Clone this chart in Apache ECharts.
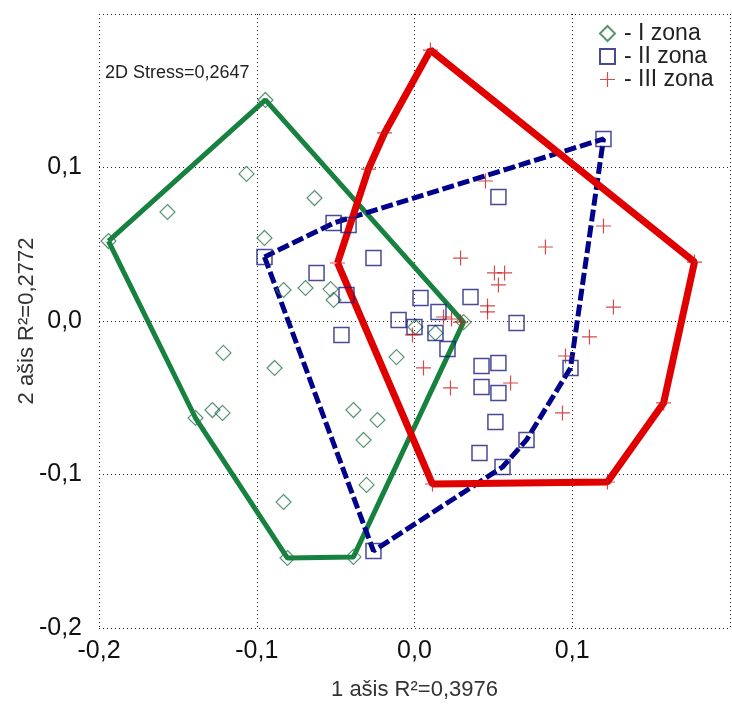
<!DOCTYPE html>
<html>
<head>
<meta charset="utf-8">
<script src="https://cdn.jsdelivr.net/npm/echarts@6/dist/echarts.min.js"></script>
<style>
  html, body { margin: 0; padding: 0; background: #fff; }
  #chart { width: 732px; height: 706px; }
</style>
</head>
<body>
<div id="chart"></div>
<script>
// NMDS ordination scores (axis 1, axis 2) per zone
const zoneNames = ['I zona', 'II zona', 'III zona'];

const zoneI = [
  [-0.0945, 0.144], [-0.1065, 0.0958], [-0.1566, 0.0710], [-0.0634, 0.0801],
  [-0.194, 0.0521], [-0.0951, 0.0541], [-0.0830, 0.0202], [-0.0691, 0.0215],
  [-0.0532, 0.0208], [-0.0513, 0.0137], [-0.0114, -0.0235], [0.0311, -0.0007],
  [0.0006, -0.0039], [0.0133, -0.0078], [-0.1211, -0.0208], [-0.0887, -0.0306],
  [-0.1388, -0.0632], [-0.1281, -0.0580], [-0.1217, -0.0599], [-0.0387, -0.0580],
  [-0.0235, -0.0645], [-0.0323, -0.0775], [-0.0304, -0.1068], [-0.0830, -0.1179],
  [-0.0805, -0.1544], [-0.0387, -0.1537]
];

const zoneII = [
  [0.1198, 0.1186], [0.0532, 0.0808], [-0.0951, 0.0417], [-0.0513, 0.0638],
  [-0.0418, 0.0625], [-0.0260, 0.0410], [-0.0621, 0.0313], [-0.0431, 0.0169],
  [-0.0463, -0.0091], [-0.0101, 0.0007], [0.0038, 0.0150], [0.0000, -0.0039],
  [0.0152, 0.0059], [0.0133, -0.0078], [0.0209, -0.0182], [0.0355, 0.0156],
  [0.0647, -0.0013], [0.0425, -0.0293], [0.0532, -0.0274], [0.0425, -0.0430],
  [0.0532, -0.0469], [0.0513, -0.0658], [0.0412, -0.0860], [0.0558, -0.0951],
  [0.0710, -0.0775], [0.0989, -0.0306], [-0.0260, -0.1498]
];

const zoneIII = [
  [0.0101, 0.1765], [-0.0190, 0.1225], [-0.0292, 0.0990], [-0.0488, 0.0378],
  [0.0450, 0.0912], [0.0292, 0.0410], [0.0830, 0.0482], [0.1198, 0.0619],
  [0.1261, 0.0091], [0.0507, 0.0313], [0.0571, 0.0313], [0.0532, 0.0235],
  [0.0463, 0.0098], [0.0463, 0.0059], [0.0184, 0.0026], [0.0235, 0.0013],
  [0.0292, -0.0007], [-0.0013, -0.0091], [0.0057, -0.0306], [0.0228, -0.0436],
  [0.0609, -0.0404], [0.0957, -0.0228], [0.1109, -0.0104], [0.0938, -0.0599],
  [0.0114, -0.1062], [0.1223, -0.1049], [0.1775, 0.0384], [0.1579, -0.0534]
];

const axisTicks = [-0.2, -0.1, 0.0, 0.1, 0.2];
const stressText = '2D Stress=0,2647';
const xAxisTitle = '1 ašis R²=0,3976';
const yAxisTitle = '2 ašis R²=0,2772';

// Convex hull (monotone chain), returned closed so the line loops back
function convexHull(points) {
  const p = points.slice().sort((a, b) => a[0] - b[0] || a[1] - b[1]);
  const cross = (o, a, b) => (a[0] - o[0]) * (b[1] - o[1]) - (a[1] - o[1]) * (b[0] - o[0]);
  const lower = [];
  for (const pt of p) {
    while (lower.length >= 2 && cross(lower[lower.length - 2], lower[lower.length - 1], pt) <= 0) lower.pop();
    lower.push(pt);
  }
  const upper = [];
  for (let i = p.length - 1; i >= 0; i--) {
    const pt = p[i];
    while (upper.length >= 2 && cross(upper[upper.length - 2], upper[upper.length - 1], pt) <= 0) upper.pop();
    upper.push(pt);
  }
  upper.pop(); lower.pop();
  const hull = lower.concat(upper);
  hull.push(hull[0]);
  return hull;
}

const fmt = v => {
  if (v > 0.15) return '';
  const s = (Math.round(v * 10) / 10).toFixed(1);
  return (s === '-0.0' ? '0.0' : s).replace('.', ',');
};

const plusPath = 'path://M9.2,0H10.8V9.2H20V10.8H10.8V20H9.2V10.8H0V9.2H9.2Z';
const font = '"Liberation Sans", Arial, sans-serif';

const dottedSplit = { show: true, lineStyle: { color: '#222', width: 1, type: [1, 3] } };

const option = {
  backgroundColor: '#fff',
  animation: false,
  grid: { left: 99, right: 2, top: 14, bottom: 78 },
  xAxis: {
    type: 'value', min: axisTicks[0], max: axisTicks[axisTicks.length - 1], interval: 0.1,
    axisLine: { show: false }, axisTick: { show: false },
    splitLine: dottedSplit,
    axisLabel: { formatter: fmt, fontSize: 25, color: '#111', fontFamily: font, margin: 11,
                 showMaxLabel: false },
    name: xAxisTitle, nameLocation: 'middle', nameGap: 51, nameMoveOverlap: false,
    nameTextStyle: { fontSize: 22, color: '#333', fontFamily: font }
  },
  yAxis: {
    type: 'value', min: axisTicks[0], max: axisTicks[axisTicks.length - 1], interval: 0.1,
    axisLine: { show: false }, axisTick: { show: false },
    splitLine: dottedSplit,
    axisLabel: { formatter: fmt, fontSize: 25, color: '#111', fontFamily: font, margin: 17,
                 showMaxLabel: false },
    name: yAxisTitle, nameLocation: 'middle', nameGap: 61, nameRotate: 90, nameMoveOverlap: false,
    nameTextStyle: { fontSize: 22, color: '#333', fontFamily: font }
  },
  legend: {
    orient: 'vertical', left: 599, top: 22, padding: 0,
    itemWidth: 15, itemHeight: 15, itemGap: 0,
    data: zoneNames,
    formatter: name => '- ' + name,
    textStyle: { fontSize: 23, color: '#222', fontFamily: font, lineHeight: 22, padding: [0, 0, 0, 4] }
  },
  graphic: [{
    type: 'text', left: 105, top: 64,
    style: { text: stressText, fontSize: 18, fill: '#222', fontFamily: font }
  }],
  series: [
    {
      type: 'line', data: convexHull(zoneI), showSymbol: false, silent: true, z: 2,
      lineStyle: { color: '#17813f', width: 5 }
    },
    {
      type: 'line', data: convexHull(zoneII), showSymbol: false, silent: true, z: 3,
      lineStyle: { color: '#00008a', width: 5, type: [12, 4] }
    },
    {
      type: 'line', data: convexHull(zoneIII), showSymbol: false, silent: true, z: 4,
      lineStyle: { color: '#e00000', width: 7 }
    },
    {
      name: zoneNames[0], type: 'scatter', data: zoneI, z: 5,
      symbol: 'diamond', symbolSize: 15,
      itemStyle: { color: 'rgba(255,255,255,0)', borderColor: '#2f7a50', borderWidth: 1.2 }
    },
    {
      name: zoneNames[1], type: 'scatter', data: zoneII, z: 5,
      symbol: 'rect', symbolSize: 15,
      itemStyle: { color: 'rgba(255,255,255,0)', borderColor: '#1c1c7c', borderWidth: 1.5 }
    },
    {
      name: zoneNames[2], type: 'scatter', data: zoneIII, z: 5,
      symbol: plusPath, symbolSize: 15,
      itemStyle: { color: '#c81e1e' }
    }
  ]
};

echarts.init(document.getElementById('chart')).setOption(option);
</script>
</body>
</html>
